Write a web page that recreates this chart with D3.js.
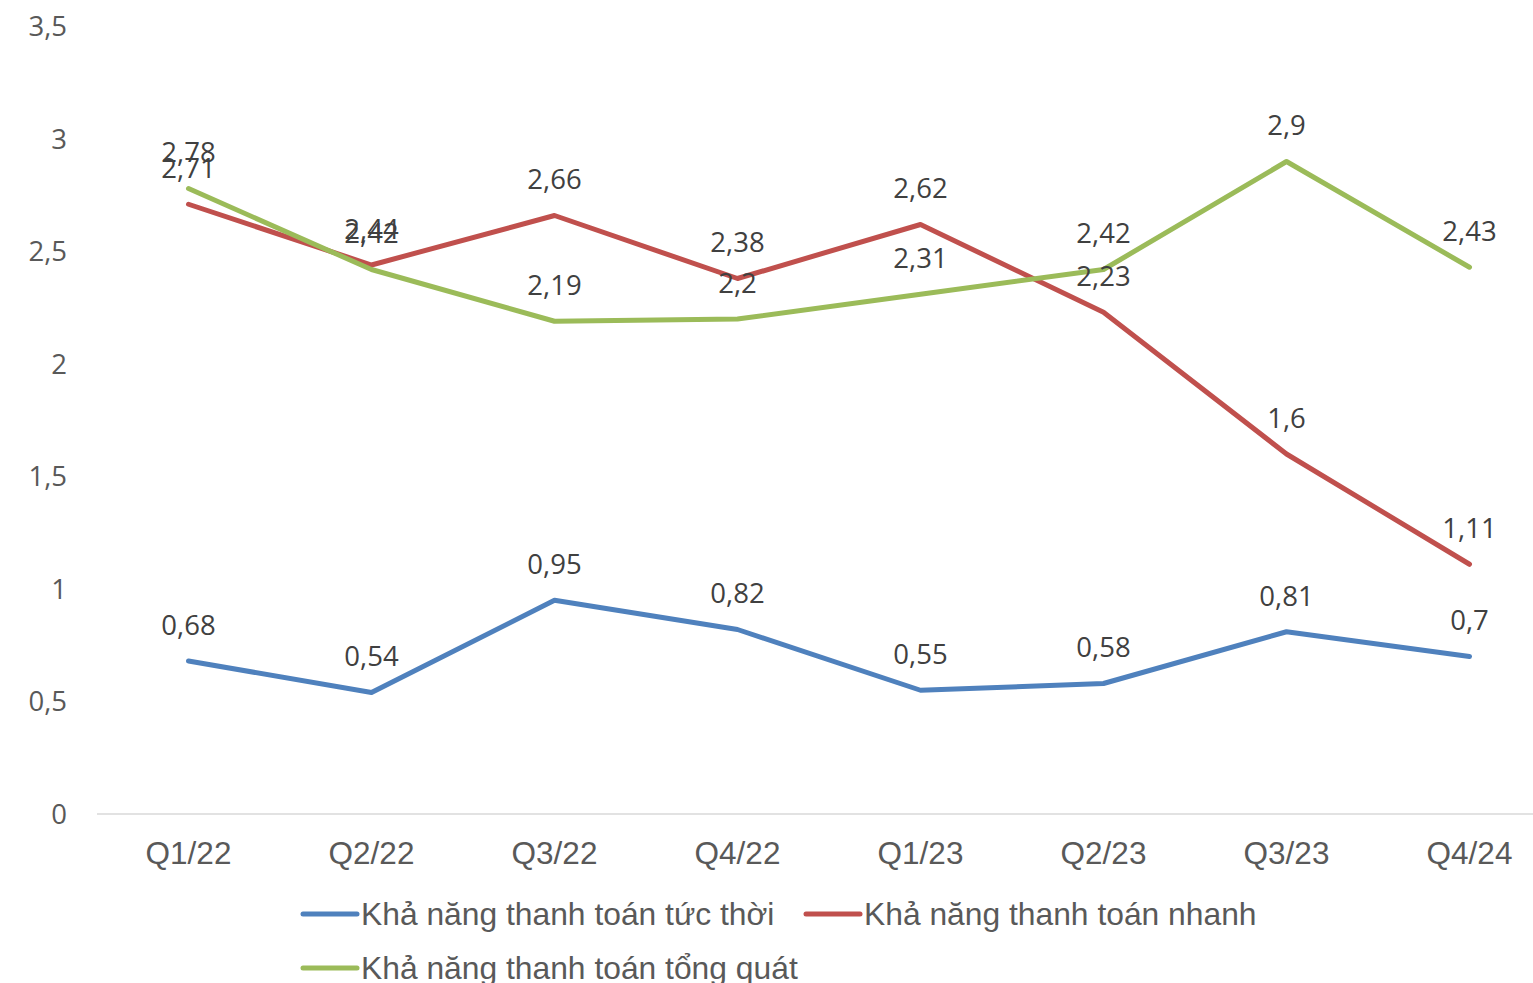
<!DOCTYPE html>
<html>
<head>
<meta charset="utf-8">
<script src="https://cdn.jsdelivr.net/npm/d3@7"></script>
<style>
  html, body { margin: 0; padding: 0; background: #fff; }
  svg { display: block; }
</style>
</head>
<body>
<svg id="chart" width="1533" height="983"></svg>
<script>
// Liquidity ratios by quarter
const quarters = ["Q1/22", "Q2/22", "Q3/22", "Q4/22", "Q1/23", "Q2/23", "Q3/23", "Q4/24"];
const cashRatio = [0.68, 0.54, 0.95, 0.82, 0.55, 0.58, 0.81, 0.7];
const quickRatio = [2.71, 2.44, 2.66, 2.38, 2.62, 2.23, 1.6, 1.11];
const currentRatio = [2.78, 2.42, 2.19, 2.2, 2.31, 2.42, 2.9, 2.43];
const yTicks = [0, 0.5, 1, 1.5, 2, 2.5, 3, 3.5];

const seriesNames = ["Khả năng thanh toán tức thời", "Khả năng thanh toán nhanh", "Khả năng thanh toán tổng quát"];
const seriesColors = ["#4F81BD", "#C0504D", "#9BBB59"];
const seriesData = [cashRatio, quickRatio, currentRatio];

const fmt = v => String(v).replace(".", ",");

const svg = d3.select("#chart");

const x = d3.scaleBand().domain(quarters).range([97, 1561]);
const y = d3.scaleLinear().domain([0, 3.5]).range([814, 26.5]);
const cx = q => x(q) + x.bandwidth() / 2;

// Category axis line
svg.append("line")
  .attr("x1", 97).attr("x2", 1533)
  .attr("y1", y(0)).attr("y2", y(0))
  .attr("stroke", "#d9d9d9").attr("stroke-width", 1.5);

// Value axis labels
svg.append("g").selectAll("text")
  .data(yTicks).join("text")
  .attr("x", 67)
  .attr("y", d => y(d))
  .attr("dy", "0.36em")
  .attr("text-anchor", "end")
  .attr("font-family", "'Open Sans', sans-serif")
  .attr("font-size", 27.5)
  .attr("fill", "#595959")
  .text(fmt);

// Category labels
svg.append("g").selectAll("text")
  .data(quarters).join("text")
  .attr("x", d => cx(d))
  .attr("y", 853)
  .attr("dy", "0.36em")
  .attr("text-anchor", "middle")
  .attr("font-family", "'Liberation Sans', Arial, sans-serif")
  .attr("font-size", 31.5)
  .attr("fill", "#595959")
  .text(d => d);

const line = d3.line()
  .x((d, i) => cx(quarters[i]))
  .y(d => y(d));

// Series lines
seriesData.forEach((vals, s) => {
  svg.append("path")
    .datum(vals)
    .attr("d", line)
    .attr("fill", "none")
    .attr("stroke", seriesColors[s])
    .attr("stroke-width", 5)
    .attr("stroke-linejoin", "round")
    .attr("stroke-linecap", "round");
});

// Data labels
seriesData.forEach((vals, s) => {
  svg.append("g").selectAll("text")
    .data(vals).join("text")
    .attr("x", (d, i) => cx(quarters[i]))
    .attr("y", d => y(d) - 36)
    .attr("dy", "0.36em")
    .attr("text-anchor", "middle")
    .attr("font-family", "'Open Sans', sans-serif")
    .attr("font-size", 27.5)
    .attr("fill", "#404040")
    .text(fmt);
});

// Legend
const legendItems = [
  { x: 303, y: 914 },
  { x: 806, y: 914 },
  { x: 303, y: 968 }
];
legendItems.forEach((p, s) => {
  const g = svg.append("g");
  g.append("line")
    .attr("x1", p.x).attr("x2", p.x + 54)
    .attr("y1", p.y).attr("y2", p.y)
    .attr("stroke", seriesColors[s])
    .attr("stroke-width", 5)
    .attr("stroke-linecap", "round");
  g.append("text")
    .attr("x", p.x + 58)
    .attr("y", p.y)
    .attr("dy", "0.36em")
    .attr("font-family", "'Liberation Sans', Arial, sans-serif")
    .attr("font-size", 31.8)
    .attr("fill", "#595959")
    .text(seriesNames[s]);
});
</script>
</body>
</html>
